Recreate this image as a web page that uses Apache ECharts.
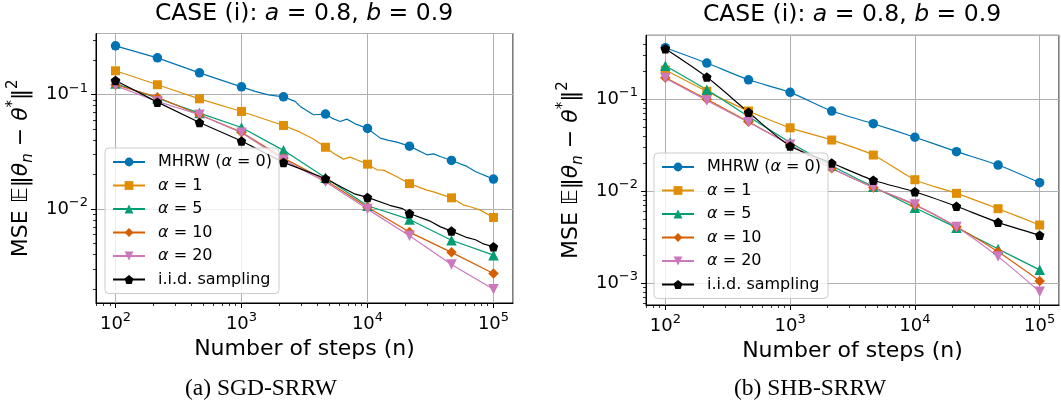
<!DOCTYPE html>
<html>
<head>
<meta charset="utf-8">
<script src="https://cdn.jsdelivr.net/npm/echarts@6/dist/echarts.min.js"></script>
<style>html,body{margin:0;padding:0;background:#fff}#c{width:1061px;height:404px}</style>
</head>
<body>
<div id="c"></div>
<script>
// ---------- data ----------
const steps = [100, 215, 464, 1000, 2154, 4642, 10000, 21544, 46416, 100000];
const seriesNames = ['MHRW (α = 0)', 'α = 1', 'α = 5', 'α = 10', 'α = 20', 'i.i.d. sampling'];

// (a) SGD-SRRW : values at marker steps
const sgdMHRW = [0.267, 0.2096, 0.155, 0.117, 0.0957, 0.0676, 0.0507, 0.0355, 0.0266, 0.0183];
const sgdA1   = [0.1615, 0.122, 0.0919, 0.0713, 0.0538, 0.0347, 0.0247, 0.0167, 0.01255, 0.00845];
const sgdA5   = [0.125, 0.093, 0.069, 0.0516, 0.0326, 0.0188, 0.0107, 0.00813, 0.00535, 0.00396];
const sgdA10  = [0.122, 0.095, 0.0667, 0.047, 0.0279, 0.0179, 0.0104, 0.0063, 0.00419, 0.00274];
const sgdA20  = [0.12, 0.0872, 0.0667, 0.0465, 0.027, 0.0173, 0.0100, 0.00585, 0.00329, 0.0020];
const sgdIID  = [0.133, 0.086, 0.0571, 0.0393, 0.0256, 0.0185, 0.01265, 0.00916, 0.00643, 0.00469];
// (a) extra points between markers
const sgdMHRWPath = [[1282,0.1067],[1636,0.0996],[2666,0.0873],[2921,0.0789],[3724,0.0667],[5212,0.0624],[6067,0.0583],[6859,0.0611],[7980,0.0556],[12610,0.0417],[14690,0.0398],[17130,0.0385],[29650,0.0298],[33430,0.0304],[37770,0.0288],[61600,0.0236],[71650,0.0213]];
const sgdA1Path = [[2921,0.0470],[3724,0.0409],[5370,0.0308],[6448,0.02733],[7280,0.02844],[8481,0.0266],[11880,0.02203],[13400,0.0219],[17120,0.01915],[29650,0.01465],[33430,0.01416],[57880,0.01084],[65430,0.01048],[78530,0.0098]];
const sgdIIDPath = [[6250,0.0155],[8000,0.0135],[15000,0.0108],[19000,0.0101],[31000,0.0079],[38000,0.0070],[60000,0.0057],[72000,0.0054],[82000,0.0050]];

// (b) SHB-SRRW : values at marker steps
const shbMHRW = [0.364, 0.248, 0.163, 0.119, 0.0746, 0.0543, 0.0387, 0.027, 0.0193, 0.0124];
const shbA1   = [0.208, 0.122, 0.0746, 0.049, 0.0361, 0.0248, 0.01337, 0.0095, 0.00647, 0.0043];
const shbA5   = [0.232, 0.127, 0.065, 0.034, 0.019, 0.0112, 0.00664, 0.00402, 0.00236, 0.0014];
const shbA10  = [0.172, 0.1, 0.057, 0.032, 0.0178, 0.011, 0.0071, 0.00412, 0.0022, 0.00106];
const shbA20  = [0.17, 0.097, 0.0562, 0.032, 0.0178, 0.011, 0.0072, 0.0041, 0.00195, 0.00081];
const shbIID  = [0.355, 0.1745, 0.0723, 0.031, 0.0203, 0.0132, 0.0099, 0.00687, 0.0046, 0.00333];

// ---------- styling ----------
const FONT = 'DejaVu Sans';
const colors = ['#0173b2', '#de8f05', '#029e73', '#d55e00', '#cc78bc', '#000000'];
const PENT = 'path://M0,-1 L0.951,-0.309 L0.588,0.809 L-0.588,0.809 L-0.951,-0.309 Z';
const symbols = ['circle', 'rect', 'triangle', 'diamond', 'triangle', PENT];
const symRot = [0, 0, 0, 0, 180, 0];
const symSize = [9.5, 9, 10.5, 10.5, 10.5, 9.5];

function build(vals, path) {
  const pts = steps.map((n, i) => ({ value: [n, vals[i]] }));
  (path || []).forEach(p => pts.push({ value: p, symbol: 'none' }));
  pts.sort((a, b) => a.value[0] - b.value[0]);
  return pts;
}

function logLabel(v) {
  const l = Math.log10(v);
  const e = Math.round(l);
  if (Math.abs(l - e) > 1e-6) return '';
  return '{b|10}{s|' + (e < 0 ? '\u2212' + (-e) : e) + '}';
}
const tickRich = {
  b: { fontSize: 18, fontFamily: FONT, color: '#000', lineHeight: 26, verticalAlign: 'middle' },
  s: { fontSize: 13, fontFamily: FONT, color: '#000', lineHeight: 14, verticalAlign: 'top' }
};

function minorVals(lo, hi) {
  const out = [];
  for (let e = lo; e <= hi; e++) for (let m = 2; m <= 9; m++) out.push(m * Math.pow(10, e));
  return out;
}

const xMin = Math.pow(10, 1.845), xMax = Math.pow(10, 5.155);
const yLim = [[Math.pow(10, -2.82), Math.pow(10, -0.466)], [Math.pow(10, -3.236), Math.pow(10, -0.304)]];

const yName = '{n|MSE }{n|\u{1D53C}}{n|\u2016}{i|θ}{sub|n}{n| \u2212 }{i|θ}{sup|*}{n|\u2016}{sup|2}';
const yNameRich = {
  n: { fontSize: 22, fontFamily: FONT, color: '#000', lineHeight: 30, verticalAlign: 'middle' },
  i: { fontSize: 22, fontFamily: FONT, fontStyle: 'italic', color: '#000', lineHeight: 30, verticalAlign: 'middle' },
  sub: { fontSize: 15, fontFamily: FONT, fontStyle: 'italic', color: '#000', lineHeight: 17, verticalAlign: 'bottom' },
  sup: { fontSize: 15, fontFamily: FONT, color: '#000', lineHeight: 17, verticalAlign: 'top' }
};

const grids = [
  { left: 96, top: 33.5, width: 417, height: 269.5 },
  { left: 646, top: 35.3, width: 413, height: 269.7 }
];

const xAxes = [], yAxes = [];
grids.forEach((g, gi) => {
  xAxes.push({
    type: 'log', gridIndex: gi, min: xMin, max: xMax, position: 'bottom',
    axisLine: { show: true, lineStyle: { color: '#000', width: 1 } },
    axisTick: { show: true, length: 5, lineStyle: { color: '#000', width: 1 } },
    axisLabel: { formatter: logLabel, rich: tickRich, margin: 8, showMinLabel: false, showMaxLabel: false },
    splitLine: { show: true, lineStyle: { color: '#b0b0b0', width: 1 } },
    name: 'Number of steps (n)', nameLocation: 'middle', nameGap: 31,
    nameTextStyle: { fontSize: 22, fontFamily: FONT, color: '#000' }
  });
  xAxes.push({
    type: 'log', gridIndex: gi, min: xMin, max: xMax, position: 'bottom', offset: 0,
    axisLine: { show: false },
    axisTick: { show: true, length: 3, lineStyle: { color: '#000', width: 0.8 }, customValues: minorVals(1, 5) },
    axisLabel: { show: false }, splitLine: { show: false }
  });
  yAxes.push({
    type: 'log', gridIndex: gi, min: yLim[gi][0], max: yLim[gi][1], position: 'left',
    axisLine: { show: true, lineStyle: { color: '#000', width: 1 } },
    axisTick: { show: true, length: 5, lineStyle: { color: '#000', width: 1 } },
    axisLabel: { formatter: logLabel, rich: tickRich, margin: 8, showMinLabel: false, showMaxLabel: false },
    splitLine: { show: true, lineStyle: { color: '#b0b0b0', width: 1 } },
    name: yName, nameLocation: 'middle', nameGap: 60, nameRotate: 90,
    nameTextStyle: { rich: yNameRich }
  });
  yAxes.push({
    type: 'log', gridIndex: gi, min: yLim[gi][0], max: yLim[gi][1], position: 'left', offset: 0,
    axisLine: { show: false },
    axisTick: { show: true, length: 3, lineStyle: { color: '#000', width: 0.8 }, customValues: minorVals(-4, 0) },
    axisLabel: { show: false }, splitLine: { show: false }
  });
});

const sgd = [[sgdMHRW, sgdMHRWPath], [sgdA1, sgdA1Path], [sgdA5], [sgdA10], [sgdA20], [sgdIID, sgdIIDPath]];
const shb = [[shbMHRW], [shbA1], [shbA5], [shbA10], [shbA20], [shbIID]];

const series = [];
[sgd, shb].forEach((set, gi) => {
  set.forEach((s, k) => {
    series.push({
      type: 'line', name: seriesNames[k],
      xAxisIndex: gi * 2, yAxisIndex: gi * 2,
      data: build(s[0], s[1]),
      symbol: symbols[k], symbolSize: symSize[k], symbolRotate: symRot[k],
      showAllSymbol: true, smooth: gi === 1 ? 0.25 : false,
      lineStyle: { color: colors[k], width: 1.2 },
      itemStyle: { color: colors[k], borderColor: colors[k], borderWidth: 0 },
      emphasis: { disabled: true }, silent: true
    });
  });
});

function legendFmt(name) {
  if (name.indexOf('α') < 0) return '{n|' + name + '}';
  return name.replace(/^(.*?)α(.*)$/, function (m, a, b) {
    return (a ? '{n|' + a + '}' : '') + '{i|α}{n|' + b + '}';
  });
}
const legendRich = {
  n: { fontSize: 16, fontFamily: FONT, color: '#000' },
  i: { fontSize: 16, fontFamily: FONT, fontStyle: 'italic', color: '#000' }
};
function mkLegend(left, top) {
  return {
    data: seriesNames, orient: 'vertical', left: left, top: top,
    itemWidth: 32, itemHeight: 11, itemGap: 7.5,
    padding: [6, 7, 6, 7], selectedMode: false,
    backgroundColor: 'rgba(255,255,255,0.8)', borderColor: '#cccccc', borderWidth: 1, borderRadius: 4,
    formatter: legendFmt,
    textStyle: { fontSize: 16, fontFamily: FONT, color: '#000', padding: [0, 0, 0, 8], rich: legendRich }
  };
}

const titleRich = {
  n: { fontSize: 23.5, fontFamily: FONT, color: '#000', fontWeight: 'normal' },
  i: { fontSize: 23.5, fontFamily: FONT, fontStyle: 'italic', color: '#000', fontWeight: 'normal' }
};
const titleText = '{n|CASE (i): }{i|a}{n| = 0.8, }{i|b}{n| = 0.9}';

const chart = echarts.init(document.getElementById('c'), null, { renderer: 'canvas' });
chart.setOption({
  animation: false,
  backgroundColor: '#fff',
  title: [
    { text: titleText, left: 304, top: 2, textAlign: 'center', padding: 0, textStyle: { rich: titleRich } },
    { text: titleText, left: 852, top: 3, textAlign: 'center', padding: 0, textStyle: { rich: titleRich } },
    { text: '(a) SGD-SRRW', left: 261, top: 377, textAlign: 'center', padding: 0,
      textStyle: { fontFamily: 'Liberation Serif', fontSize: 23.5, fontWeight: 'normal', color: '#000' } },
    { text: '(b) SHB-SRRW', left: 810, top: 377, textAlign: 'center', padding: 0,
      textStyle: { fontFamily: 'Liberation Serif', fontSize: 23.5, fontWeight: 'normal', color: '#000' } }
  ],
  grid: grids.map(g => Object.assign({ show: true, borderColor: '#000', borderWidth: 1, backgroundColor: 'transparent' }, g)),
  xAxis: xAxes,
  yAxis: yAxes,
  legend: [mkLegend(105, 148), mkLegend(654, 153)],
  series: series
});
</script>
</body>
</html>
